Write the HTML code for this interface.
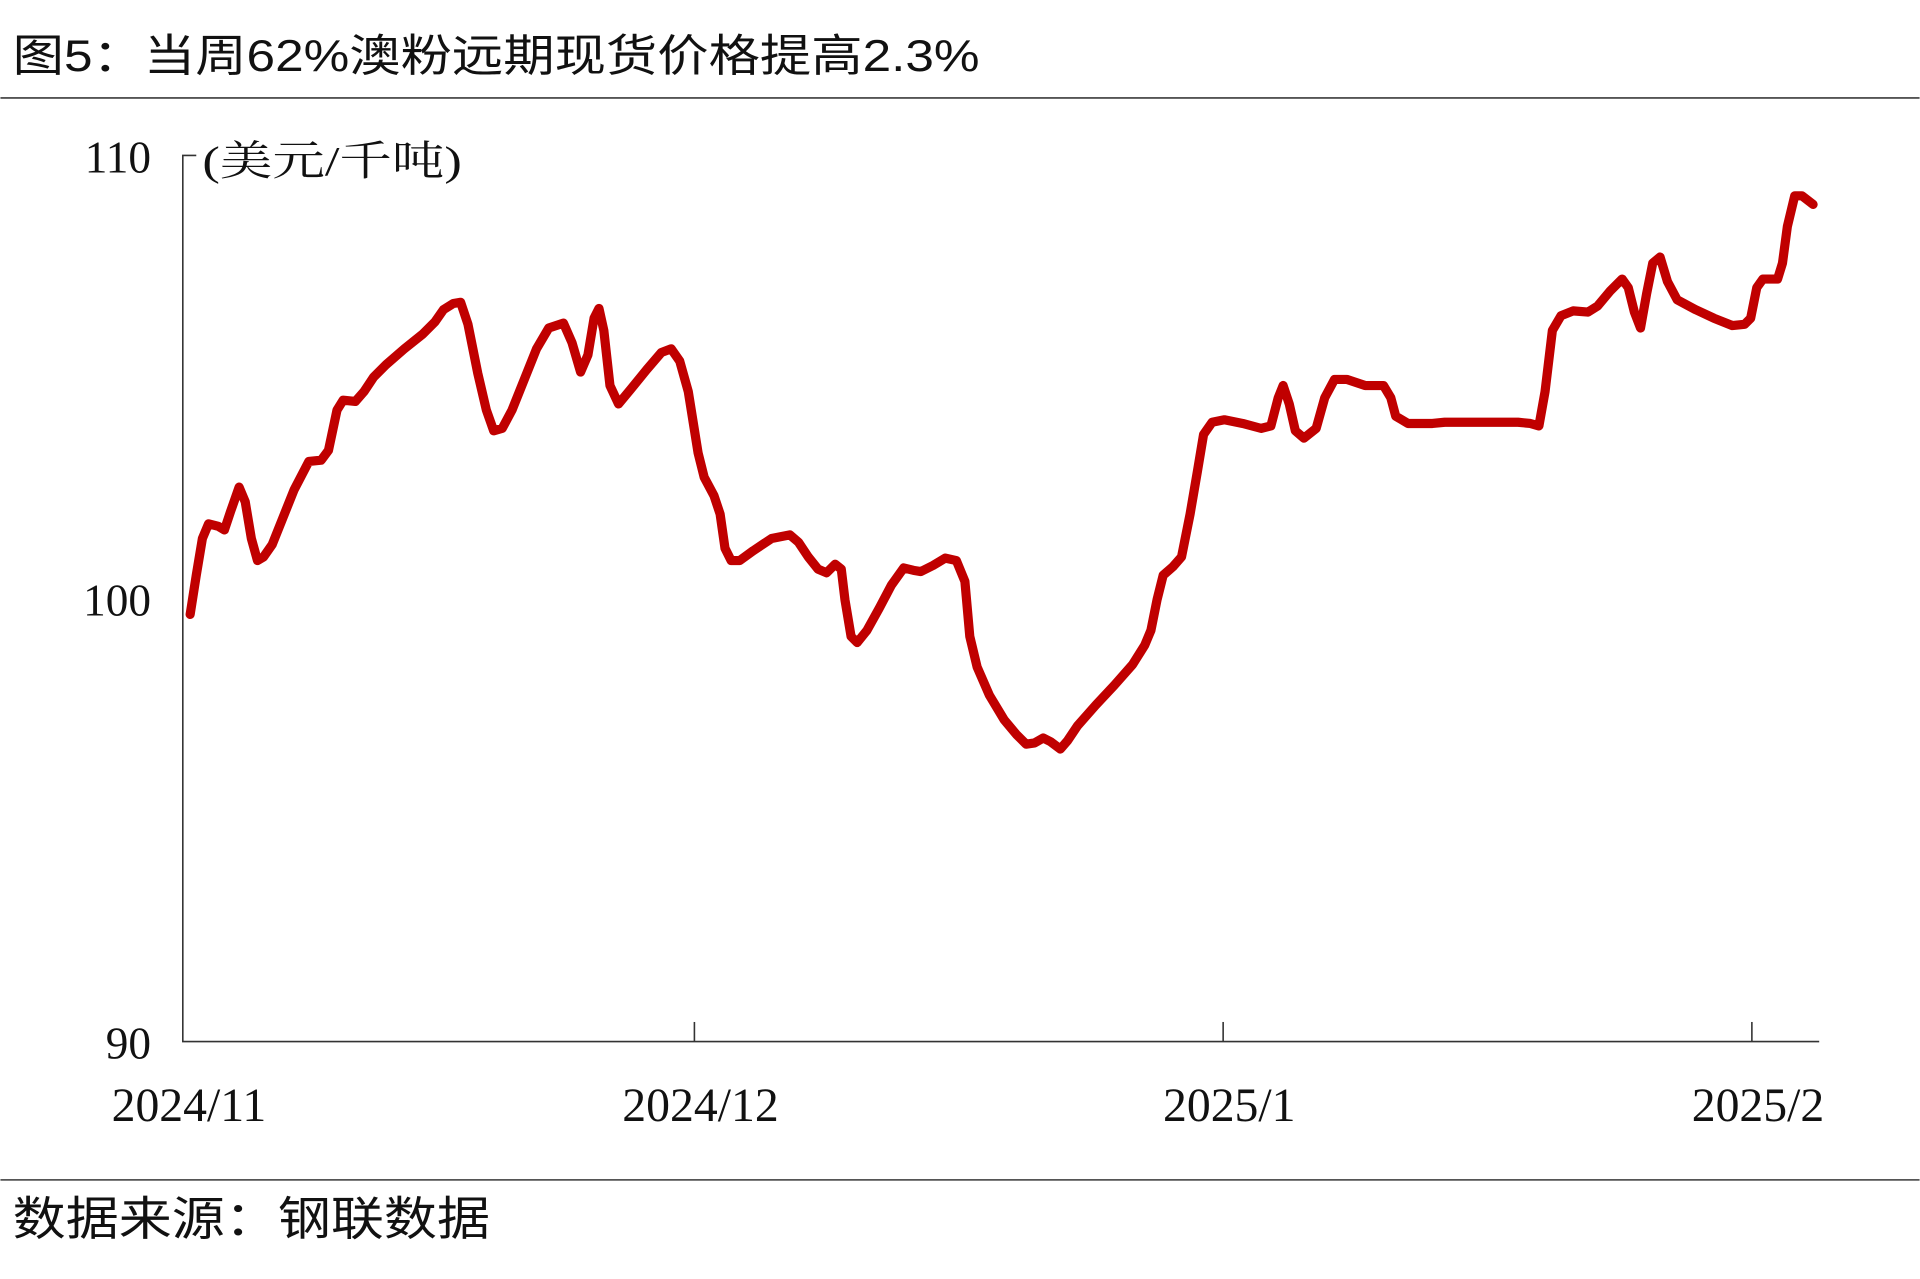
<!DOCTYPE html>
<html><head><meta charset="utf-8"><style>
html,body{margin:0;padding:0;background:#fff;}
svg{display:block;}
</style></head><body>
<svg width="1920" height="1279" viewBox="0 0 1568 1045" xmlns="http://www.w3.org/2000/svg">
<rect width="1568" height="1045" fill="#fff"/>
<text x="10" y="58" textLength="790" lengthAdjust="spacingAndGlyphs" font-family="'Liberation Sans','Noto Sans CJK SC',sans-serif" font-size="36" fill="#111">图5：当周62%澳粉远期现货价格提高2.3%</text>
<line x1="0" y1="80" x2="1568" y2="80" stroke="#555" stroke-width="1.5"/>
<line x1="0" y1="964" x2="1568" y2="964" stroke="#555" stroke-width="1.5"/>
<text x="10" y="1009" textLength="390" lengthAdjust="spacingAndGlyphs" font-family="'Liberation Sans','Noto Sans CJK SC',sans-serif" font-size="38" fill="#111">数据来源：钢联数据</text>
<g stroke="#333" stroke-width="1.3" fill="none">
<polyline points="160,127 149,127 149,851 1486,851"/>
<line x1="567" y1="851" x2="567" y2="835"/>
<line x1="999" y1="851" x2="999" y2="835"/>
<line x1="1431" y1="851" x2="1431" y2="835"/>
</g>
<g font-family="'Liberation Serif','Noto Serif CJK SC',serif" font-size="37" fill="#111">
<text x="123" y="141" text-anchor="end">110</text>
<text x="123" y="503" text-anchor="end">100</text>
<text x="123" y="865" text-anchor="end">90</text>
</g>
<g font-family="'Liberation Serif','Noto Serif CJK SC',serif" font-size="39" fill="#111">
<text x="154" y="916" text-anchor="middle">2024/11</text>
<text x="572" y="916" text-anchor="middle">2024/12</text>
<text x="1004" y="916" text-anchor="middle">2025/1</text>
<text x="1436" y="916" text-anchor="middle">2025/2</text>
</g>
<text x="165" y="143" textLength="212" lengthAdjust="spacingAndGlyphs" font-family="'Liberation Serif','Noto Serif CJK SC',serif" font-size="34" fill="#111">(美元/千吨)</text>
<polyline fill="none" stroke="#c00000" stroke-width="7.5" stroke-linejoin="round" stroke-linecap="round" points="155,502 160,470 165,440 170,428 178,430 183,433 188,418 195,398 200,410 205,440 210,458 215,455 222,445 230,425 240,400 252,377 262,376 268,368 275,335 280,327 290,328 297,320 305,308 315,298 330,285 345,273 355,263 362,253 370,248 376,247 382,265 390,305 397,335 403,352 410,350 418,335 428,310 438,285 448,268 460,264 467,280 474,304 480,290 485,260 489,252 493,270 498,315 505,330 515,318 528,302 540,288 548,285 555,295 562,320 570,370 575,390 583,405 588,420 592,448 597,458 604,458 615,450 630,440 645,437 652,443 660,455 668,465 675,468 682,461 687,465 690,490 695,520 700,525 708,515 718,497 728,478 738,464 746,466 752,467 762,462 772,456 781,458 788,475 792,520 798,545 808,568 820,588 830,600 838,608 845,607 852,603 858,606 866,612 872,605 880,593 895,576 910,560 925,543 935,527 940,515 945,490 950,470 958,463 965,455 972,420 978,385 983,355 990,345 1000,343 1015,346 1030,350 1038,348 1044,325 1048,315 1053,330 1058,352 1065,358 1075,350 1082,325 1090,310 1100,310 1115,315 1130,315 1136,325 1140,340 1150,346 1170,346 1180,345 1240,345 1250,346 1257,348 1262,320 1268,270 1275,258 1285,254 1297,255 1305,250 1315,238 1325,228 1330,235 1335,255 1340,268 1345,240 1350,215 1356,210 1362,230 1370,245 1385,253 1400,260 1415,266 1425,265 1430,260 1435,235 1440,228 1447,228 1452,228 1456,215 1460,185 1466,160 1472,160 1481,167"/>
</svg>
</body></html>
